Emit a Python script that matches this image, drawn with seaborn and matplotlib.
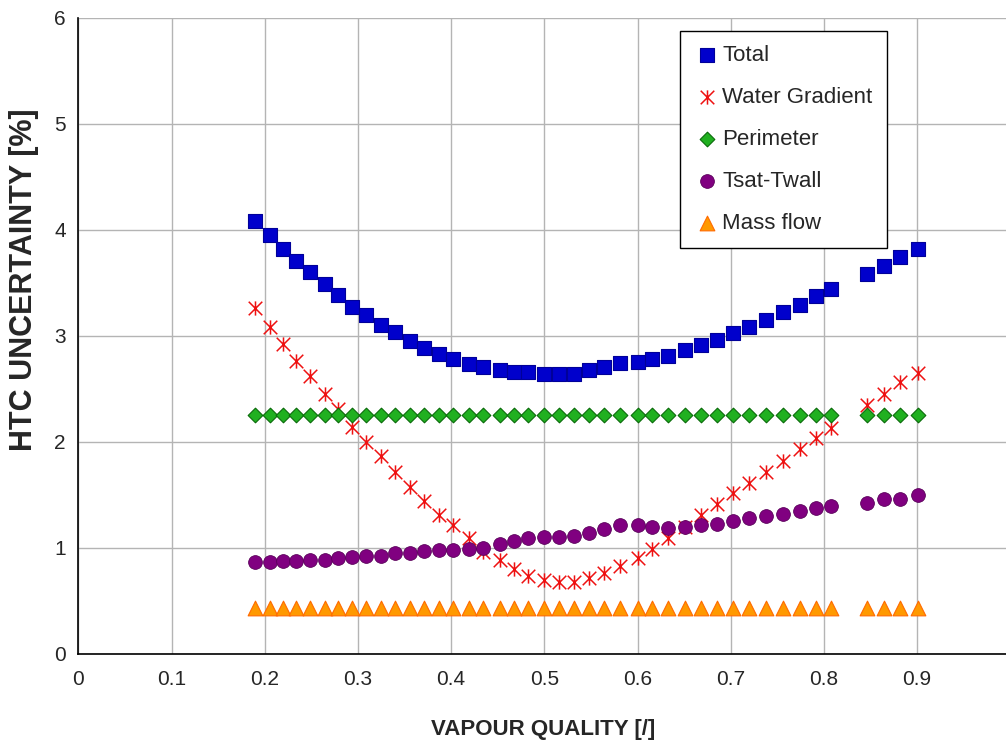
import numpy as np
import pandas as pd
import matplotlib
matplotlib.use("Agg")
import matplotlib.pyplot as plt
from matplotlib.path import Path
from matplotlib.ticker import MultipleLocator
import seaborn as sns

# ---------------- data ----------------
vapour_quality = [0.190, 0.206, 0.220, 0.234, 0.249, 0.265, 0.279, 0.294, 0.309, 0.325,
                  0.340, 0.356, 0.371, 0.387, 0.402, 0.419, 0.434, 0.452, 0.467, 0.483,
                  0.500, 0.516, 0.532, 0.548, 0.564, 0.581, 0.600, 0.616, 0.633, 0.651,
                  0.668, 0.685, 0.702, 0.720, 0.738, 0.756, 0.774, 0.792, 0.808,
                  0.846, 0.864, 0.882, 0.901]
total = [4.08, 3.95, 3.82, 3.70, 3.60, 3.49, 3.38, 3.27, 3.19, 3.10,
         3.03, 2.95, 2.88, 2.83, 2.78, 2.73, 2.70, 2.67, 2.66, 2.66,
         2.64, 2.64, 2.64, 2.67, 2.70, 2.74, 2.75, 2.78, 2.81, 2.86,
         2.91, 2.96, 3.02, 3.08, 3.15, 3.22, 3.29, 3.37, 3.44,
         3.58, 3.66, 3.74, 3.82]
water_gradient = [3.26, 3.08, 2.92, 2.76, 2.62, 2.45, 2.31, 2.14, 2.00, 1.86,
                  1.71, 1.57, 1.44, 1.31, 1.21, 1.09, 0.96, 0.88, 0.80, 0.73,
                  0.69, 0.67, 0.67, 0.71, 0.76, 0.83, 0.90, 0.99, 1.09, 1.19,
                  1.31, 1.41, 1.51, 1.61, 1.71, 1.82, 1.93, 2.03, 2.13,
                  2.34, 2.45, 2.56, 2.65]
perimeter = [2.25, 2.25, 2.25, 2.25, 2.25, 2.25, 2.25, 2.25, 2.25, 2.25,
             2.25, 2.25, 2.25, 2.25, 2.25, 2.25, 2.25, 2.25, 2.25, 2.25,
             2.25, 2.25, 2.25, 2.25, 2.25, 2.25, 2.25, 2.25, 2.25, 2.25,
             2.25, 2.25, 2.25, 2.25, 2.25, 2.25, 2.25, 2.25, 2.25,
             2.25, 2.25, 2.25, 2.25]
tsat_twall = [0.86, 0.86, 0.87, 0.87, 0.88, 0.88, 0.90, 0.91, 0.92, 0.92,
              0.95, 0.95, 0.97, 0.98, 0.98, 0.99, 1.00, 1.03, 1.06, 1.09,
              1.10, 1.10, 1.11, 1.14, 1.17, 1.21, 1.21, 1.19, 1.18, 1.19,
              1.21, 1.22, 1.25, 1.28, 1.30, 1.32, 1.34, 1.37, 1.39,
              1.42, 1.46, 1.46, 1.50]
mass_flow = [0.43, 0.43, 0.43, 0.43, 0.43, 0.43, 0.43, 0.43, 0.43, 0.43,
             0.43, 0.43, 0.43, 0.43, 0.43, 0.43, 0.43, 0.43, 0.43, 0.43,
             0.43, 0.43, 0.43, 0.43, 0.43, 0.43, 0.43, 0.43, 0.43, 0.43,
             0.43, 0.43, 0.43, 0.43, 0.43, 0.43, 0.43, 0.43, 0.43,
             0.43, 0.43, 0.43, 0.43]

series_names = ["Total", "Water Gradient", "Perimeter", "Tsat-Twall", "Mass flow"]
series_values = [total, water_gradient, perimeter, tsat_twall, mass_flow]

x_ticks = [0, 0.1, 0.2, 0.3, 0.4, 0.5, 0.6, 0.7, 0.8, 0.9, 1.0]
x_tick_labels = ["0", "0.1", "0.2", "0.3", "0.4", "0.5", "0.6", "0.7", "0.8", "0.9", "1"]
y_ticks = [0, 1, 2, 3, 4, 5, 6]
y_tick_labels = ["0", "1", "2", "3", "4", "5", "6"]

df = pd.concat(
    [pd.DataFrame({"quality": vapour_quality, "uncertainty": vals, "series": name})
     for name, vals in zip(series_names, series_values)],
    ignore_index=True,
)

# ---------------- style ----------------
sns.set_style("white")
plt.rcParams["font.family"] = ["Liberation Sans", "DejaVu Sans"]

asterisk = Path(
    [(-1, -1), (1, 1), (-1, 1), (1, -1), (0, -1.05), (0, 1.05)],
    [Path.MOVETO, Path.LINETO, Path.MOVETO, Path.LINETO, Path.MOVETO, Path.LINETO],
)

styles = {
    "Total": dict(marker="s", s=92, color="#0000CC", edgecolor="#000099", linewidth=0.8),
    "Water Gradient": dict(marker=asterisk, s=105, color="#EE1111", edgecolor="#EE1111", linewidth=1.1),
    "Perimeter": dict(marker="D", s=56, color="#20B020", edgecolor="#0A6A0A", linewidth=0.8),
    "Tsat-Twall": dict(marker="o", s=98, color="#800080", edgecolor="#5A005A", linewidth=0.6),
    "Mass flow": dict(marker="^", s=112, color="#FF9900", edgecolor="#FF6A00", linewidth=0.8),
}

fig = plt.figure(figsize=(10.06, 7.41), dpi=100)
ax = fig.add_axes([78.3 / 1006, (741 - 653.5) / 741, 932 / 1006, 636 / 741])

for name in series_names:
    sub = df[df["series"] == name]
    sns.scatterplot(data=sub, x="quality", y="uncertainty", ax=ax, label=name,
                    zorder=3, clip_on=False, **styles[name])

ax.set_xlim(0, 1)
ax.set_ylim(0, 6)
ax.set_xticks(x_ticks)
ax.set_xticklabels(x_tick_labels)
ax.set_yticks(y_ticks)
ax.set_yticklabels(y_tick_labels)
ax.xaxis.set_minor_locator(MultipleLocator(0.05))
ax.yaxis.set_minor_locator(MultipleLocator(0.2))

ax.grid(True, which="major", color="#B4B4B4", linewidth=1.0)
ax.set_axisbelow(True)

for side in ["top", "right"]:
    ax.spines[side].set_visible(False)
for side in ["left", "bottom"]:
    ax.spines[side].set_color("black")
    ax.spines[side].set_linewidth(1.2)

ax.tick_params(axis="x", which="major", direction="in", length=5, width=1,
               color="black", labelsize=15, pad=12)
ax.tick_params(axis="x", which="minor", direction="in", length=5, width=1, color="black")
ax.tick_params(axis="y", which="major", direction="out", length=5, width=1,
               color="black", labelsize=15, pad=4)
ax.tick_params(axis="y", which="minor", direction="out", length=4, width=1, color="black")

ax.set_xlabel("VAPOUR QUALITY [/]", fontsize=16, fontweight="bold")
ax.set_ylabel("HTC UNCERTAINTY [%]", fontsize=22, fontweight="bold")
ax.xaxis.set_label_coords(0.4985, -0.103)
ax.yaxis.set_label_coords(-0.042, 0.587)

leg = ax.legend(loc="upper left", bbox_to_anchor=((680 - 78.3) / 932, (653.5 - 31) / 636),
                fontsize=16, frameon=True, fancybox=False, shadow=False, framealpha=1,
                edgecolor="black", borderpad=0.63, labelspacing=0.94, handlelength=1.13,
                handletextpad=0.15, scatterpoints=1, borderaxespad=0)
leg.get_frame().set_linewidth(1.0)

fig.savefig("out.png", dpi=100)
